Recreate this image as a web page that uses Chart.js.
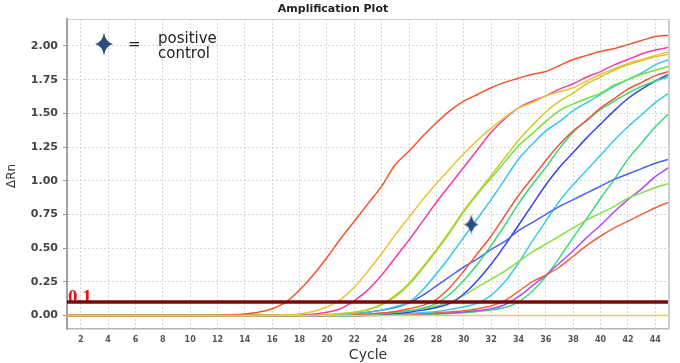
<!DOCTYPE html>
<html><head><meta charset="utf-8">
<script src="https://cdn.jsdelivr.net/npm/chart.js@4/dist/chart.umd.min.js"></script>
<style>html,body{margin:0;padding:0;background:#fff;}#wrap{width:680px;height:363px;}</style>
</head><body><div id="wrap"><canvas id="c" width="680" height="363"></canvas></div>
<script>
// ---------- data ----------
const cycles = [1,2,3,4,5,6,7,8,9,10,11,12,13,14,15,16,17,18,19,20,21,22,23,24,25,26,27,28,29,30,31,32,33,34,35,36,37,38,39,40,41,42,43,44,45];
const xTickValues = [2,4,6,8,10,12,14,16,18,20,22,24,26,28,30,32,34,36,38,40,42,44];
const yTickValues = [0,0.25,0.5,0.75,1.0,1.25,1.5,1.75,2.0];
const threshold = 0.1;
const thresholdLabel = '0.1';
const positiveControlCycle = [30.55];
const positiveControlValue = [0.675];

const sRedA   = [0,0,0,0,0,0,0,0,0,0,0,0.002,0.005,0.012,0.025,0.05,0.10,0.19,0.30,0.43,0.57,0.70,0.83,0.96,1.12,1.22,1.33,1.43,1.52,1.59,1.64,1.69,1.73,1.76,1.79,1.81,1.855,1.90,1.93,1.96,1.98,2.01,2.04,2.07,2.08];
const sYellow = [0,0,0,0,0,0,0,0,0,0,0,0,0,0,0,0.002,0.005,0.012,0.03,0.065,0.12,0.21,0.33,0.46,0.60,0.73,0.86,0.98,1.09,1.20,1.30,1.39,1.47,1.54,1.58,1.63,1.66,1.69,1.74,1.79,1.83,1.87,1.90,1.93,1.96];
const sPink   = [0,0,0,0,0,0,0,0,0,0,0,0,0,0,0,0,0,0.003,0.01,0.025,0.05,0.11,0.19,0.30,0.43,0.56,0.70,0.84,0.97,1.10,1.23,1.36,1.46,1.54,1.59,1.63,1.68,1.72,1.77,1.81,1.86,1.90,1.94,1.97,1.99];
const sOlive  = [0,0,0,0,0,0,0,0,0,0,0,0,0,0,0,0,0,0,0.003,0.008,0.015,0.025,0.045,0.085,0.15,0.24,0.36,0.49,0.63,0.78,0.91,1.04,1.17,1.30,1.41,1.51,1.59,1.65,1.72,1.77,1.82,1.86,1.89,1.92,1.94];
const sGreen1 = [0,0,0,0,0,0,0,0,0,0,0,0,0,0,0,0,0,0,0.002,0.006,0.012,0.022,0.042,0.08,0.14,0.23,0.35,0.48,0.62,0.77,0.90,1.02,1.14,1.26,1.35,1.44,1.52,1.57,1.61,1.65,1.71,1.75,1.79,1.82,1.85];
const sCyan1  = [0,0,0,0,0,0,0,0,0,0,0,0,0,0,0,0,0,0,0,0.003,0.008,0.015,0.025,0.04,0.065,0.10,0.19,0.31,0.44,0.58,0.72,0.86,1.01,1.16,1.27,1.37,1.44,1.52,1.58,1.64,1.70,1.75,1.80,1.86,1.90];
const sRed2   = [0,0,0,0,0,0,0,0,0,0,0,0,0,0,0,0,0,0,0,0,0.002,0.005,0.01,0.018,0.03,0.05,0.075,0.12,0.21,0.33,0.46,0.59,0.74,0.89,1.02,1.15,1.27,1.37,1.45,1.54,1.61,1.68,1.73,1.78,1.81];
const sGreen2 = [0,0,0,0,0,0,0,0,0,0,0,0,0,0,0,0,0,0,0,0,0.001,0.003,0.007,0.013,0.022,0.035,0.055,0.09,0.16,0.26,0.38,0.52,0.67,0.83,0.97,1.10,1.24,1.36,1.45,1.53,1.59,1.65,1.70,1.74,1.77];
const sBlue2  = [0,0,0,0,0,0,0,0,0,0,0,0,0,0,0,0,0,0,0,0.003,0.008,0.015,0.025,0.04,0.06,0.095,0.15,0.22,0.29,0.36,0.42,0.49,0.55,0.63,0.69,0.75,0.81,0.86,0.91,0.96,1.01,1.05,1.09,1.13,1.16];
const sBlue1  = [0,0,0,0,0,0,0,0,0,0,0,0,0,0,0,0,0,0,0,0,0,0,0.003,0.008,0.015,0.025,0.04,0.06,0.09,0.16,0.26,0.38,0.52,0.67,0.82,0.97,1.10,1.21,1.32,1.42,1.52,1.61,1.68,1.74,1.79];
const sGreen4 = [0,0,0,0,0,0,0,0,0,0,0,0,0,0,0,0,0,0,0,0,0.002,0.005,0.01,0.017,0.025,0.035,0.05,0.07,0.10,0.15,0.21,0.27,0.33,0.40,0.47,0.53,0.59,0.65,0.71,0.76,0.81,0.87,0.91,0.95,0.98];
const sCyan2  = [0,0,0,0,0,0,0,0,0,0,0,0,0,0,0,0,0,0,0,0,0,0,0.002,0.005,0.01,0.015,0.022,0.03,0.045,0.065,0.09,0.15,0.25,0.39,0.55,0.70,0.85,0.97,1.08,1.19,1.30,1.40,1.49,1.58,1.65];
const sRed3   = [0,0,0,0,0,0,0,0,0,0,0,0,0,0,0,0,0,0,0,0,0,0,0.002,0.004,0.007,0.01,0.014,0.02,0.027,0.035,0.05,0.07,0.11,0.18,0.25,0.30,0.36,0.44,0.52,0.59,0.65,0.70,0.75,0.80,0.84];
const sPurple = [0,0,0,0,0,0,0,0,0,0,0,0,0,0,0,0,0,0,0,0,0,0,0,0.002,0.004,0.007,0.01,0.015,0.02,0.027,0.037,0.05,0.08,0.14,0.22,0.30,0.39,0.48,0.58,0.67,0.77,0.86,0.94,1.03,1.10];
const sGreen3 = [0,0,0,0,0,0,0,0,0,0,0,0,0,0,0,0,0,0,0,0,0,0,0,0,0.002,0.004,0.007,0.01,0.015,0.02,0.03,0.04,0.06,0.10,0.18,0.29,0.43,0.58,0.72,0.87,1.01,1.16,1.28,1.40,1.50];
const sNTC    = [0,0,0,0,0,0,0,0,0,0,0,0,0,0,0,0,0,0,0,0,0,0,0,0,0,0,0,0,0,0,0,0,0,0,0,0,0,0,0,0,0,0,0,0,0];

const seriesList = [
  {values: sNTC,    color: '#e6d24a'},
  {values: sRedA,   color: '#f2552e'},
  {values: sYellow, color: '#e6c435'},
  {values: sPink,   color: '#f23fa5'},
  {values: sOlive,  color: '#cfc82a'},
  {values: sGreen1, color: '#74e03c'},
  {values: sCyan1,  color: '#35c6ee'},
  {values: sRed2,   color: '#f0553a'},
  {values: sGreen2, color: '#3ad67a'},
  {values: sBlue2,  color: '#4a62ee'},
  {values: sBlue1,  color: '#3346e6'},
  {values: sGreen4, color: '#82e24a'},
  {values: sCyan2,  color: '#3ccbea'},
  {values: sRed3,   color: '#f06440'},
  {values: sPurple, color: '#b04cf0'},
  {values: sGreen3, color: '#38d884'}
];

// ---------- helpers ----------
function drawStar(ctx, cx, cy, rx, ry, color){
  const k = 0.16;
  ctx.beginPath();
  ctx.moveTo(cx, cy - ry);
  ctx.quadraticCurveTo(cx + rx*k, cy - ry*k, cx + rx, cy);
  ctx.quadraticCurveTo(cx + rx*k, cy + ry*k, cx, cy + ry);
  ctx.quadraticCurveTo(cx - rx*k, cy + ry*k, cx - rx, cy);
  ctx.quadraticCurveTo(cx - rx*k, cy - ry*k, cx, cy - ry);
  ctx.closePath();
  ctx.fillStyle = color;
  ctx.fill();
}
const starImg = document.createElement('canvas');
starImg.width = 16; starImg.height = 22;
drawStar(starImg.getContext('2d'), 8, 11, 7.5, 10.5, '#2b4c7e');

const datasets = seriesList.map(s => ({
  data: s.values.map((v,i) => ({x: cycles[i], y: v})),
  borderColor: s.color,
  borderWidth: 1.5,
  pointRadius: 0,
  fill: false,
  cubicInterpolationMode: 'monotone',
  order: 2
}));
datasets.push({
  data: [{x: cycles[0], y: threshold}, {x: cycles[cycles.length-1], y: threshold}],
  borderColor: '#7a0808',
  borderWidth: 3.5,
  pointRadius: 0,
  order: 1
});
datasets.push({
  data: positiveControlCycle.map((c,i) => ({x: c, y: positiveControlValue[i]})),
  showLine: false,
  pointStyle: starImg,
  pointRadius: 10,
  order: 0
});

const deco = {
  id: 'deco',
  beforeDraw(chart){
    const ctx = chart.ctx;
    ctx.save(); ctx.fillStyle = '#fff'; ctx.fillRect(0,0,chart.width,chart.height); ctx.restore();
  },
  beforeDatasetsDraw(chart){
    const {ctx, chartArea, scales} = chart;
    const yy = scales.y.getPixelForValue(threshold);
    ctx.save();
    ctx.font = 'bold 19px "Liberation Serif"';
    ctx.fillStyle = '#ee1111';
    ctx.textBaseline = 'alphabetic';
    ctx.textAlign = 'left';
    ctx.fillText(thresholdLabel, chartArea.left + 1, yy + 1);
    ctx.restore();
  },
  afterDraw(chart){
    const {ctx, chartArea} = chart;
    ctx.save();
    // frame top / right
    ctx.strokeStyle = '#cfcfcf'; ctx.lineWidth = 1;
    ctx.beginPath(); ctx.moveTo(chartArea.left, chartArea.top + 0.5); ctx.lineTo(chartArea.right, chartArea.top + 0.5); ctx.stroke();
    ctx.lineWidth = 2;
    ctx.beginPath(); ctx.moveTo(chartArea.right, chartArea.top); ctx.lineTo(chartArea.right, chartArea.bottom); ctx.stroke();
    // title
    ctx.fillStyle = '#222';
    ctx.font = 'bold 11px "DejaVu Sans"';
    ctx.textAlign = 'center'; ctx.textBaseline = 'alphabetic';
    ctx.fillText('Amplification Plot', 333, 12);
    // axis titles
    ctx.fillStyle = '#333';
    ctx.font = '14px "DejaVu Sans"';
    ctx.textBaseline = 'middle';
    ctx.fillText('Cycle', (chartArea.left + chartArea.right)/2, 355);
    ctx.save();
    ctx.translate(12, 176); ctx.rotate(-Math.PI/2);
    ctx.font = '12px "DejaVu Sans"';
    ctx.fillText('ΔRn', 0, 0);
    ctx.restore();
    // legend
    drawStar(ctx, 104, 44, 9, 11.5, '#2b4c7e');
    ctx.fillStyle = '#222';
    ctx.font = '15px "DejaVu Sans"';
    ctx.textAlign = 'left'; ctx.textBaseline = 'alphabetic';
    ctx.fillText('=', 128, 49);
    ctx.fillText('positive', 158, 43);
    ctx.fillText('control', 158, 58);
    ctx.restore();
  }
};

new Chart(document.getElementById('c'), {
  type: 'line',
  data: {datasets},
  plugins: [deco],
  options: {
    responsive: false,
    devicePixelRatio: 1,
    animation: false,
    layout: {padding: {top: 19, right: 7, left: 0, bottom: 0}},
    plugins: {legend: {display: false}, title: {display: false}, tooltip: {enabled: false}},
    scales: {
      x: {
        type: 'linear', min: 1, max: 45,
        afterBuildTicks: s => { s.ticks = xTickValues.map(v => ({value: v})); },
        afterFit: s => { s.height = 34; },
        grid: {color: '#d6d6d6', lineWidth: 1, drawTicks: false},
        border: {display: true, color: '#b5b5b5', width: 1.5, dash: [2,2]},
        ticks: {color: '#555', font: {family: 'DejaVu Sans', size: 8, weight: 'bold'}, padding: 6, maxRotation: 0, autoSkip: false}
      },
      y: {
        type: 'linear', min: -0.1, max: 2.2,
        afterBuildTicks: s => { s.ticks = yTickValues.map(v => ({value: v})); },
        afterFit: s => { s.width = 67; },
        grid: {color: '#d6d6d6', lineWidth: 1, drawTicks: true, tickLength: 4, tickColor: '#999'},
        border: {display: true, color: '#a0a0a0', width: 2, dash: [2,2]},
        ticks: {color: '#444', font: {family: 'DejaVu Sans', size: 11, weight: 'bold'}, padding: 5,
                callback: v => Number(v).toFixed(2)}
      }
    }
  }
});
</script></body></html>
